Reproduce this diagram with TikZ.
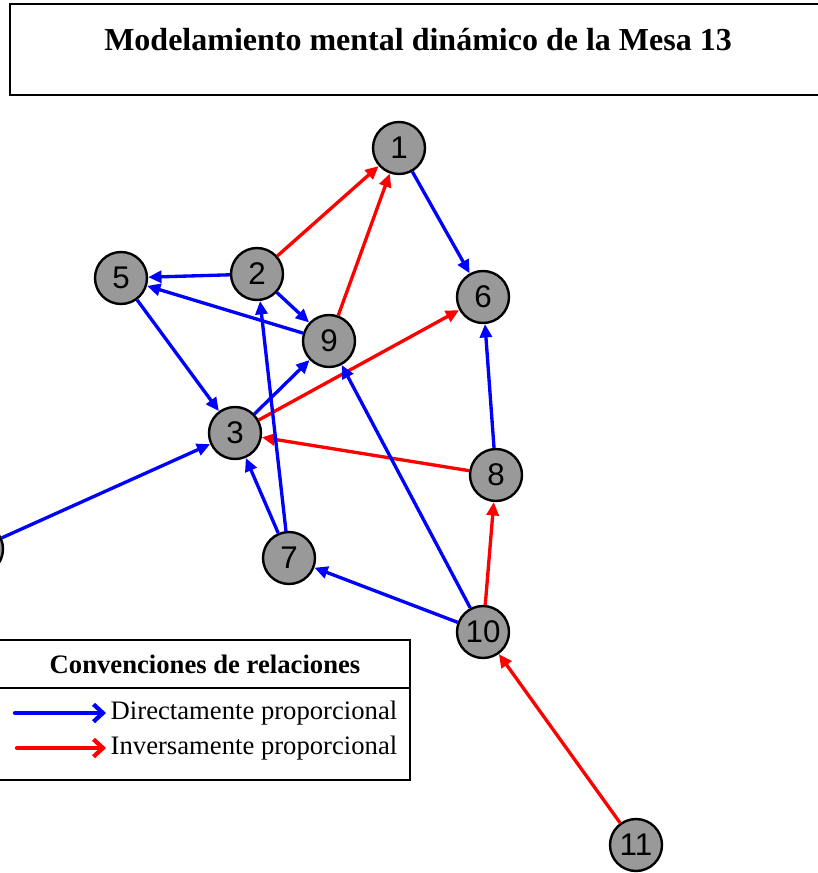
\documentclass[tikz,border=0pt]{standalone}
\usepackage{fontspec}
\setmainfont{Liberation Serif}
\newfontfamily\numfont{Liberation Sans}
\usetikzlibrary{arrows.meta}

\begin{document}
\begin{tikzpicture}[x=0.75pt,y=-0.75pt,
	nd/.style={circle,draw,line width=1.8pt,fill=black!40,minimum size=39pt,inner sep=0pt,
		font=\numfont\fontsize{23.5}{26}\selectfont},
	dir/.style={draw=blue,line width=2.5pt,-{Triangle[length=10pt,width=9pt]}},
	inv/.style={draw=red,line width=2.5pt,-{Triangle[length=10pt,width=9pt]}},
	key/.style={line width=3.2pt,line cap=round,-{Straight Barb[length=7pt,width=13pt,line width=3.2pt]}}]
				\useasboundingbox (0,0) rectangle (817,873);

				% titulo
				\draw[line width=1.5pt] (10,4) rectangle (840,95);
				\node[font=\bfseries\fontsize{24}{28}\selectfont] (titulo) at (418,40) {Modelamiento mental din\'amico de la Mesa 13};

				% nodos
				\node[nd] (n1) at (399,148) {1};
				\node[nd] (n2) at (257,274) {2};
				\node[nd] (n3) at (235,433) {3};
				\node[nd] (n4) at (-23,549) {};
				\node[nd] (n5) at (121,278) {5};
				\node[nd] (n6) at (483,297) {6};
				\node[nd] (n7) at (289,558) {7};
				\node[nd] (n8) at (496,475) {8};
				\node[nd] (n9) at (329,341) {9};
				\node[nd] (n10) at (483,632) {10};
				\node[nd] (n11) at (636,845) {11};

				% relaciones
				\draw[inv] (n2)--(n1);
				\draw[inv] (n9)--(n1);
				\draw[dir] (n1)--(n6);
				\draw[dir] (n2)--(n5);
				\draw[dir] (n2)--(n9);
				\draw[dir] (n9)--(n5);
				\draw[dir] (n5)--(n3);
				\draw[dir] (n3)--(n9);
				\draw[inv] (n3)--(n6);
				\draw[inv] (n8)--(n3);
				\draw[dir] (n8)--(n6);
				\draw[dir] (n7)--(n3);
				\draw[dir] (n7)--(n2);
				\draw[dir] (n10)--(n9);
				\draw[dir] (n10)--(n7);
				\draw[inv] (n10)--(n8);
				\draw[inv] (n11)--(n10);
				\draw[dir] (n4)--(n3);

				% convenciones
				\draw[line width=1.5pt] (-10,640) rectangle (410,780);
				\draw[line width=2pt] (-10,688)--(410,688);
				\node[font=\bfseries\fontsize{20}{24}\selectfont] (conv) at (205,664) {Convenciones de relaciones};
				\node[anchor=west,font=\fontsize{20}{24}\selectfont] (tdir) at (106,713) {Directamente proporcional};
				\node[anchor=west,font=\fontsize{20}{24}\selectfont] (tinv) at (106,748) {Inversamente proporcional};
				\coordinate (a1) at (15,713);
				\coordinate (a2) at (17,748);
				\draw[key,blue] (a1)--(tdir.west);
				\draw[key,red] (a2)--(tinv.west);

			\end{tikzpicture}
\end{document}
